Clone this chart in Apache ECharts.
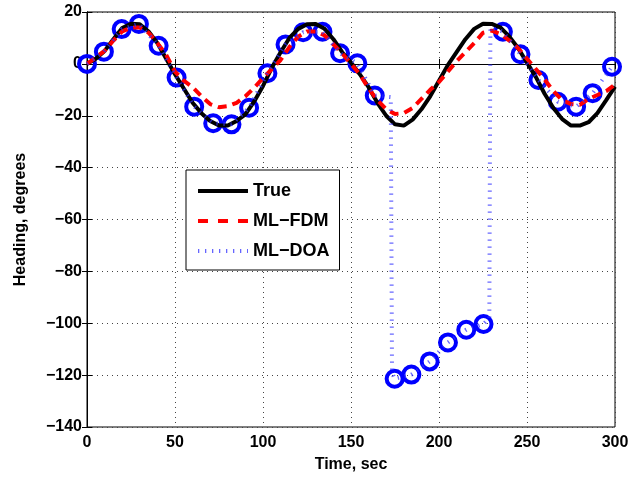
<!DOCTYPE html>
<html>
<head>
<meta charset="utf-8">
<script src="https://cdn.jsdelivr.net/npm/echarts@6/dist/echarts.min.js"></script>
<style>
  html, body { margin: 0; background: #fff; }
  #chart { width: 633px; height: 482px; }
</style>
</head>
<body>
<div id="chart"></div>
<script>
// time grid for the smooth curves (sec)
const curveTime = [
  0, 5, 10, 15, 20, 25, 30, 35, 40, 45, 50, 55, 60, 65, 70, 75, 80, 85, 90, 95,
  100, 105, 110, 115, 120, 125, 130, 135, 140, 145, 150, 155, 160, 165, 170, 175, 180, 185, 190, 195,
  200, 205, 210, 215, 220, 225, 230, 235, 240, 245, 250, 255, 260, 265, 270, 275, 280, 285, 290, 295, 300
]
const trueHeading = [
  0, 2, 5, 9.5, 13.8, 15.5, 15.3, 12.5, 8, 2, -4, -9.5, -15, -19, -22, -23.8, -23.8, -22, -19.5, -14.5,
  -8.5, -1.5, 4.5, 10, 13.5, 15.3, 15.4, 13.5, 9.5, 4.5, 0.5, -4, -9, -15, -20, -23.3, -23.8, -21.5, -17.5, -12.5,
  -6.5, -0.5, 4.5, 9.5, 13.5, 15.5, 15.4, 14, 10.5, 6, 0.5, -5, -11.5, -17, -21.3, -23.8, -23.8, -22.5, -19, -14, -8.8
]
const fdmHeading = [
  0, 2.5, 5, 9, 12.5, 14, 14, 12, 8, 3.5, -3, -6.5, -9, -12.5, -15.5, -16.7, -16.3, -15, -12.5, -9.2,
  -5.5, -2, 1.5, 6.5, 10.5, 12.5, 12.5, 11, 7.5, 4, 0, -4, -9.5, -14, -17.5, -19.3, -19, -17, -13.5, -10,
  -7, -3, 1, 4.5, 8, 12, 12.8, 11.5, 9, 6, 2, -2, -6, -10.5, -14, -15.5, -15.8, -13.5, -12, -10.5, -8
]
// ML-DOA estimates (circles)
const doaTime = [
  0, 9.6, 19.7, 29.5, 40.7, 50.9, 60.9, 71.7, 82.1, 92.1, 102.5, 112.8, 122.8, 133.8, 143.8,
  153.6, 163.5, 174.8, 184.3, 194.7, 205.1, 215.5, 225.3, 236.3, 246.3, 256.5, 267.5, 277.9, 287.3, 298.3
]
const doaHeading = [
  0, 4.7, 13.4, 15.4, 7.0, -5.3, -16.5, -22.9, -23.3, -16.9, -3.6, 7.5, 12.2, 12.4, 4.1,
  0.2, -12.2, -121.4, -119.8, -114.7, -107.4, -102.5, -100.3, 12.4, 3.7, -6.2, -14.6, -16.5, -11.3, -1.1
]
// extra points on the DOA line where it jumps
const jumpTime = [172.6, 173.3, 228.6, 229.2]
const jumpHeading = [-12.8, -119, -98, 14]

const font = "'Liberation Sans', Arial, sans-serif"
const minus = v => String(v).replace('-', '\u2212')

const pairs = (xs, ys) => xs.map((x, i) => [x, ys[i]])
const doaLine = pairs(doaTime, doaHeading).concat(pairs(jumpTime, jumpHeading))
  .sort((a, b) => a[0] - b[0])

const chart = echarts.init(document.getElementById('chart'))

const tickStyle = {show: true, inside: true, length: 5, lineStyle: {color: '#000', width: 1}}
const gridDots = {show: true, lineStyle: {color: '#444', width: 1, type: [1, 4]}}

chart.setOption({
  animation: false,
  backgroundColor: '#fff',
  grid: {left: 87, right: 18, top: 12, bottom: 55, show: true, borderColor: '#000', borderWidth: 1},
  legend: {
    data: [
      {name: 'True'},
      {name: 'ML\u2212FDM', lineStyle: {type: [10, 10]}},
      {name: 'ML\u2212DOA'}
    ],
    orient: 'vertical',
    left: 186, top: 170,
    padding: [11, 10, 9, 10],
    itemGap: 10,
    itemWidth: 50, itemHeight: 14,
    backgroundColor: '#fff',
    borderColor: '#000', borderWidth: 1,
    itemStyle: {opacity: 0},
    lineStyle: {width: 4},
    textStyle: {fontFamily: font, fontWeight: 'bold', fontSize: 18, color: '#000', lineHeight: 20}
  },
  xAxis: [{
    type: 'value', min: 0, max: 300, interval: 50,
    name: 'Time, sec', nameLocation: 'middle', nameGap: 30,
    nameTextStyle: {fontFamily: font, fontWeight: 'bold', fontSize: 16, color: '#000'},
    axisLine: {show: true, lineStyle: {color: '#000'}},
    axisTick: tickStyle,
    axisLabel: {fontFamily: font, fontWeight: 'bold', fontSize: 16, color: '#000', margin: 8},
    splitLine: gridDots
  }, {
    type: 'value', min: 0, max: 300, interval: 50, position: 'top',
    axisLine: {show: true, lineStyle: {color: '#000'}},
    axisTick: tickStyle, axisLabel: {show: false}, splitLine: {show: false}
  }],
  yAxis: [{
    type: 'value', min: -140, max: 20, interval: 20,
    name: 'Heading, degrees', nameLocation: 'middle', nameGap: 58,
    nameTextStyle: {fontFamily: font, fontWeight: 'bold', fontSize: 16, color: '#000'},
    axisLine: {show: true, lineStyle: {color: '#000'}},
    axisTick: tickStyle,
    axisLabel: {fontFamily: font, fontWeight: 'bold', fontSize: 16, color: '#000', margin: 5, formatter: minus},
    splitLine: gridDots
  }, {
    type: 'value', min: -140, max: 20, interval: 20, position: 'right',
    axisLine: {show: true, lineStyle: {color: '#000'}},
    axisTick: tickStyle, axisLabel: {show: false}, splitLine: {show: false}
  }],
  series: [{
    name: 'True', type: 'line', symbol: 'none',
    data: pairs(curveTime, trueHeading),
    color: '#000',
    lineStyle: {color: '#000', width: 4}
  }, {
    name: 'ML\u2212FDM', type: 'line', symbol: 'none',
    data: pairs(curveTime, fdmHeading),
    color: '#ff0000',
    lineStyle: {color: '#ff0000', width: 4, type: [9, 6]}
  }, {
    name: 'ML\u2212DOA', type: 'line', symbol: 'none',
    data: doaLine,
    color: '#3333ff',
    lineStyle: {color: '#3333ff', width: 4, type: [1.3, 5.7], opacity: 0.75}
  }, {
    name: 'doa-marks', type: 'scatter',
    data: pairs(doaTime, doaHeading),
    symbol: 'circle', symbolSize: 16,
    itemStyle: {color: 'rgba(0,0,0,0)', borderColor: '#0000ff', borderWidth: 4, opacity: 1}
  }]
})
</script>
</body>
</html>
